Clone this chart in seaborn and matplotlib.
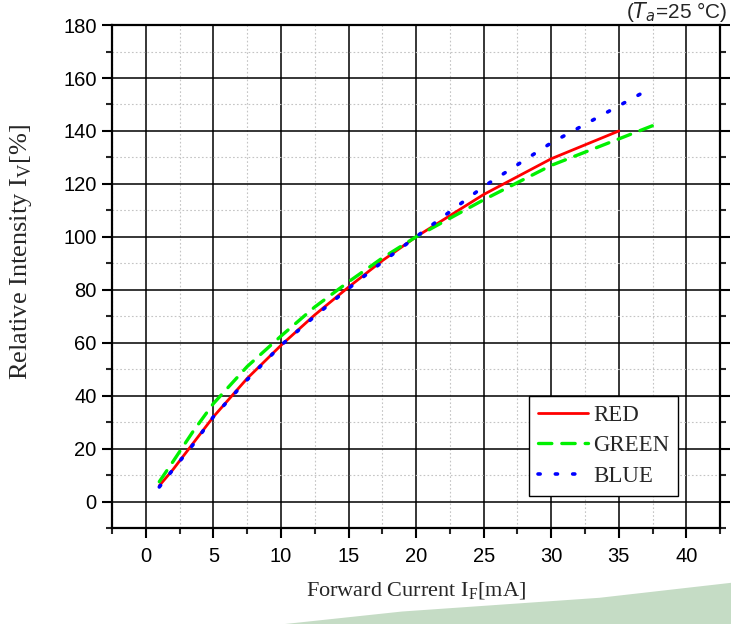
import numpy as np
import pandas as pd
import matplotlib
matplotlib.use("Agg")
import matplotlib.pyplot as plt
from matplotlib.patches import Polygon
from matplotlib.ticker import MultipleLocator
import seaborn as sns

# values
red_x = [1, 2, 3.5, 5, 7.5, 10, 12.5, 15, 17.5, 20, 25, 30, 35]
red_y = [6, 12, 22, 32, 46.5, 59, 70.5, 81, 91, 100, 116, 129.5, 140]
green_x = [1, 2, 3.5, 5, 7.5, 10, 12.5, 15, 17.5, 20, 25, 30, 35, 38]
green_y = [7.5, 15, 26.5, 37, 51, 62.5, 73.5, 83, 92, 100, 114, 127, 137, 143]
blue_x = [1, 2, 3.5, 5, 7.5, 10, 12.5, 15, 17.5, 20, 25, 30, 35, 37.5]
blue_y = [5.5, 12, 21.5, 32, 46, 59, 70, 80.5, 90.5, 100, 119, 135.5, 149.5, 156.5]

df = pd.concat([
    pd.DataFrame({"current": red_x, "intensity": red_y, "series": "RED"}),
    pd.DataFrame({"current": green_x, "intensity": green_y, "series": "GREEN"}),
    pd.DataFrame({"current": blue_x, "intensity": blue_y, "series": "BLUE"}),
])

sns.set_style("ticks")
plt.rcParams["font.family"] = ["Liberation Sans", "DejaVu Sans"]

fig = plt.figure(figsize=(7.31, 6.24), dpi=100)

# decorative green swoosh at bottom right of the page
fig.patches.append(Polygon([(0.39, 0.0), (0.55, 0.02), (0.82, 0.042), (1.0, 0.066), (1.0, 0.0)],
                           closed=True, transform=fig.transFigure, facecolor="#c5dcc5",
                           edgecolor="none", zorder=0))

ax = fig.add_axes([0.1532, 0.1538, 0.832, 0.806])

styles = {
    "RED": dict(color="#ff0000", linestyle="-", linewidth=2.0),
    "GREEN": dict(color="#00f000", linestyle=(0, (4, 3)), linewidth=2.4),
    "BLUE": dict(color="#0000ff", linestyle=(0, (0.6, 4.2)), linewidth=2.6),
}
for name in ["RED", "GREEN", "BLUE"]:
    sns.lineplot(data=df[df["series"] == name], x="current", y="intensity", sort=False,
                 ax=ax, label=name, zorder=5, **styles[name])

for line in ax.get_lines():
    line.set_dash_capstyle("round")

ax.set_xlim(-2.5, 42.5)
ax.set_ylim(-10, 180)
ax.xaxis.set_major_locator(MultipleLocator(5))
ax.xaxis.set_minor_locator(MultipleLocator(2.5))
ax.yaxis.set_major_locator(MultipleLocator(20))
ax.yaxis.set_minor_locator(MultipleLocator(10))

ax.grid(which="major", color="black", linewidth=1.1, linestyle="-")
ax.grid(which="minor", color="#c4c4c4", linewidth=0.8, linestyle=(0, (1.5, 2)))
ax.set_axisbelow(True)

for sp in ax.spines.values():
    sp.set_visible(True)
    sp.set_linewidth(1.6)
    sp.set_color("black")

ax.tick_params(which="major", direction="out", length=7, width=1.5, labelsize=14.5,
               colors="black", right=True, pad=4)
ax.tick_params(which="minor", direction="out", length=4, width=1.5, right=True)
ax.tick_params(axis="x", which="major", pad=7)

ax.set_xlabel("Forward Current I$_\\mathregular{F}$[mA]", family="Liberation Serif",
              fontsize=16)
ax.set_ylabel("Relative Intensity I$_\\mathregular{V}$[%]", family="Liberation Serif",
              fontsize=19)
ax.xaxis.set_label_coords(0.5, -0.104)
ax.yaxis.set_label_coords(-0.128, 0.549)

leg = ax.legend(loc="lower right", bbox_to_anchor=(0.931, 0.064), borderaxespad=0,
                frameon=True, fancybox=False, edgecolor="black", framealpha=1,
                prop={"family": "Liberation Serif", "size": 16.5},
                handlelength=2.2, handletextpad=0.2, borderpad=0.4, labelspacing=0.4)
leg.get_frame().set_linewidth(1.0)
leg.set_zorder(10)

fig.text(0.995, 1 - 18 / 624, "($T_a$=25 °C)", fontsize=15, ha="right", va="baseline")

fig.savefig("out.png", dpi=100)
plt.close(fig)
